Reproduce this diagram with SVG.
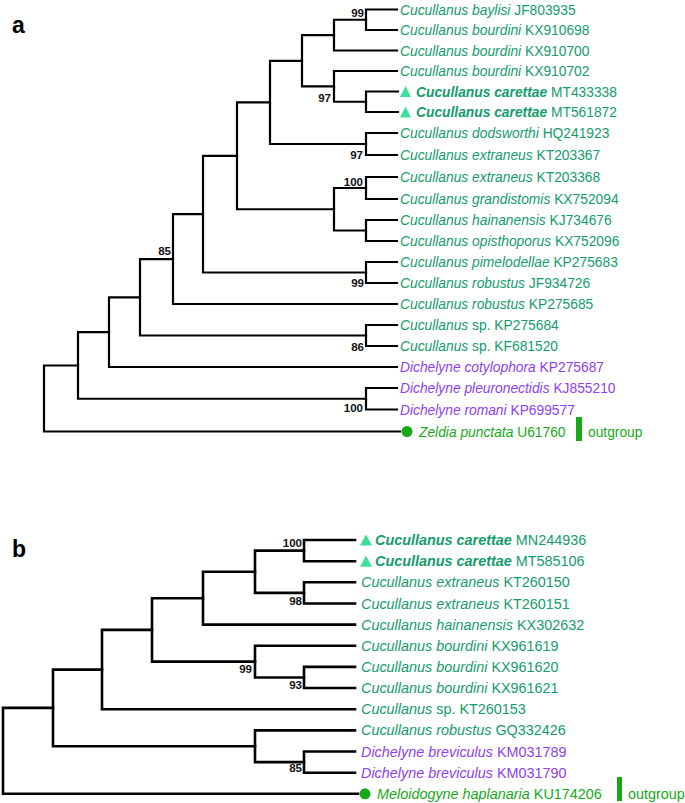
<svg xmlns="http://www.w3.org/2000/svg" width="685" height="803" viewBox="0 0 685 803">
<style>
.br{fill:none;stroke:#000;stroke-width:2.2;stroke-linejoin:miter;stroke-linecap:square}
.brb{fill:none;stroke:#000;stroke-width:2.6;stroke-linejoin:miter;stroke-linecap:square}
.ta{font-family:"Liberation Sans",Arial,sans-serif;font-size:13.8px}
.tb{font-family:"Liberation Sans",Arial,sans-serif;font-size:14.4px}
.cu{fill:#149c6c}
.di{fill:#9040f2}
.og{fill:#17a817}
.i{font-style:italic}
.bi{font-style:italic;font-weight:bold}
.bs{font-family:"Liberation Sans",Arial,sans-serif;font-size:11.5px;font-weight:bold;fill:#111;text-anchor:end}
.pl{font-family:"Liberation Sans",Arial,sans-serif;font-size:23px;font-weight:bold;fill:#000}
.tri{fill:#3ddf99}
.dot{fill:#17a817}
</style>
<text class="pl" x="12" y="33">a</text>
<text class="pl" x="12" y="557">b</text>

<g id="connectors-a">
<path class="br" d="M366,9.5H397M366,30H397M366,9.5V30"/>
<path class="br" d="M334,19.75H366M334,50.5H397M334,19.75V50.5"/>
<path class="br" d="M366,91.5H398M366,112H398M366,91.5V112"/>
<path class="br" d="M334,71H397M334,101.75H366M334,71V101.75"/>
<path class="br" d="M302,35.1H334M302,86.4H334M302,35.1V86.4"/>
<path class="br" d="M366,133H397M366,155H397M366,133V155"/>
<path class="br" d="M270,60.8H302M270,144H366M270,60.8V144"/>
<path class="br" d="M366,177H397M366,199H397M366,177V199"/>
<path class="br" d="M366,220H397M366,241H397M366,220V241"/>
<path class="br" d="M334,188H366M334,230.5H366M334,188V230.5"/>
<path class="br" d="M237,102.4H270M237,209.25H334M237,102.4V209.25"/>
<path class="br" d="M366,262H397M366,283H397M366,262V283"/>
<path class="br" d="M203,155.8H237M203,272.5H366M203,155.8V272.5"/>
<path class="br" d="M173,214.2H203M173,304H397M173,214.2V304"/>
<path class="br" d="M366,325H397M366,346H397M366,325V346"/>
<path class="br" d="M140,259.1H173M140,335.5H366M140,259.1V335.5"/>
<path class="br" d="M109,297.3H140M109,367H397M109,297.3V367"/>
<path class="br" d="M366,388H397M366,409.5H397M366,388V409.5"/>
<path class="br" d="M78,332.2H109M78,398.75H366M78,332.2V398.75"/>
<path class="br" d="M44,365.5H78M44,431.5H400M44,365.5V431.5"/>
</g>

<g id="support-a">
<text class="bs" x="364" y="17">99</text>
<text class="bs" x="331" y="102">97</text>
<text class="bs" x="363" y="159">97</text>
<text class="bs" x="363" y="186">100</text>
<text class="bs" x="171" y="255">85</text>
<text class="bs" x="364" y="287">99</text>
<text class="bs" x="364" y="351">86</text>
<text class="bs" x="363" y="412">100</text>
</g>

<g id="tips-a">
<g id="a1"><text class="ta cu" x="400" y="14.5"><tspan class="i">Cucullanus baylisi</tspan> JF803935</text></g>
<g id="a2"><text class="ta cu" x="400" y="35"><tspan class="i">Cucullanus bourdini</tspan> KX910698</text></g>
<g id="a3"><text class="ta cu" x="400" y="55.5"><tspan class="i">Cucullanus bourdini</tspan> KX910700</text></g>
<g id="a4"><text class="ta cu" x="400" y="76"><tspan class="i">Cucullanus bourdini</tspan> KX910702</text></g>
<g id="a5"><polygon class="tri" points="405.5,86 400,97 411,97"/><text class="ta cu" x="416" y="96.5"><tspan class="bi">Cucullanus carettae</tspan> MT433338</text></g>
<g id="a6"><polygon class="tri" points="405.5,106.5 400,117.5 411,117.5"/><text class="ta cu" x="416" y="117"><tspan class="bi">Cucullanus carettae</tspan> MT561872</text></g>
<g id="a7"><text class="ta cu" x="400" y="138"><tspan class="i">Cucullanus dodsworthi</tspan> HQ241923</text></g>
<g id="a8"><text class="ta cu" x="400" y="160"><tspan class="i">Cucullanus extraneus</tspan> KT203367</text></g>
<g id="a9"><text class="ta cu" x="400" y="182"><tspan class="i">Cucullanus extraneus</tspan> KT203368</text></g>
<g id="a10"><text class="ta cu" x="400" y="204"><tspan class="i">Cucullanus grandistomis</tspan> KX752094</text></g>
<g id="a11"><text class="ta cu" x="400" y="225"><tspan class="i">Cucullanus hainanensis</tspan> KJ734676</text></g>
<g id="a12"><text class="ta cu" x="400" y="246"><tspan class="i">Cucullanus opisthoporus</tspan> KX752096</text></g>
<g id="a13"><text class="ta cu" x="400" y="267"><tspan class="i">Cucullanus pimelodellae</tspan> KP275683</text></g>
<g id="a14"><text class="ta cu" x="400" y="288"><tspan class="i">Cucullanus robustus</tspan> JF934726</text></g>
<g id="a15"><text class="ta cu" x="400" y="309"><tspan class="i">Cucullanus robustus</tspan> KP275685</text></g>
<g id="a16"><text class="ta cu" x="400" y="330"><tspan class="i">Cucullanus</tspan> sp. KP275684</text></g>
<g id="a17"><text class="ta cu" x="400" y="351"><tspan class="i">Cucullanus</tspan> sp. KF681520</text></g>
<g id="a18"><text class="ta di" x="400" y="372"><tspan class="i">Dichelyne cotylophora</tspan> KP275687</text></g>
<g id="a19"><text class="ta di" x="400" y="393"><tspan class="i">Dichelyne pleuronectidis</tspan> KJ855210</text></g>
<g id="a20"><text class="ta di" x="400" y="414.5"><tspan class="i">Dichelyne romani</tspan> KP699577</text></g>
<g id="a21"><circle class="dot" cx="407" cy="431.5" r="5.5"/><text class="ta og" x="419" y="436.5"><tspan class="i">Zeldia punctata</tspan> U61760</text><rect class="dot" x="576" y="417" width="6" height="24"/><text class="ta og" x="588" y="436.5">outgroup</text></g>
</g>

<g id="connectors-b">
<path class="brb" d="M304,540H355M304,561.2H355M304,540V561.2"/>
<path class="brb" d="M304,582.3H355M304,603.5H355M304,582.3V603.5"/>
<path class="brb" d="M255,550.6H304M255,592.9H304M255,550.6V592.9"/>
<path class="brb" d="M203,571.75H255M203,624.6H355M203,571.75V624.6"/>
<path class="brb" d="M304,666.9H355M304,688H355M304,666.9V688"/>
<path class="brb" d="M255,645.8H355M255,677.45H304M255,645.8V677.45"/>
<path class="brb" d="M152,598.2H203M152,661.6H255M152,598.2V661.6"/>
<path class="brb" d="M102,629.9H152M102,709.2H355M102,629.9V709.2"/>
<path class="brb" d="M304,751.5H355M304,772.7H355M304,751.5V772.7"/>
<path class="brb" d="M255,730.4H355M255,762.1H304M255,730.4V762.1"/>
<path class="brb" d="M53,669.6H102M53,746.25H255M53,669.6V746.25"/>
<path class="brb" d="M3,707.9H53M3,793.8H358M3,707.9V793.8"/>
</g>

<g id="support-b">
<text class="bs" x="302" y="547">100</text>
<text class="bs" x="302" y="605">98</text>
<text class="bs" x="252" y="673">99</text>
<text class="bs" x="302" y="689">93</text>
<text class="bs" x="302" y="772">85</text>
</g>

<g id="tips-b">
<g id="b1"><polygon class="tri" points="366,534.5 360,545.5 372,545.5"/><text class="tb cu" x="375" y="545"><tspan class="bi">Cucullanus carettae</tspan> MN244936</text></g>
<g id="b2"><polygon class="tri" points="366,555.7 360,566.7 372,566.7"/><text class="tb cu" x="375" y="566.2"><tspan class="bi">Cucullanus carettae</tspan> MT585106</text></g>
<g id="b3"><text class="tb cu" x="361" y="587.3"><tspan class="i">Cucullanus extraneus</tspan> KT260150</text></g>
<g id="b4"><text class="tb cu" x="361" y="608.5"><tspan class="i">Cucullanus extraneus</tspan> KT260151</text></g>
<g id="b5"><text class="tb cu" x="361" y="629.6"><tspan class="i">Cucullanus hainanensis</tspan> KX302632</text></g>
<g id="b6"><text class="tb cu" x="361" y="650.8"><tspan class="i">Cucullanus bourdini</tspan> KX961619</text></g>
<g id="b7"><text class="tb cu" x="361" y="671.9"><tspan class="i">Cucullanus bourdini</tspan> KX961620</text></g>
<g id="b8"><text class="tb cu" x="361" y="693"><tspan class="i">Cucullanus bourdini</tspan> KX961621</text></g>
<g id="b9"><text class="tb cu" x="361" y="714.2"><tspan class="i">Cucullanus</tspan> sp. KT260153</text></g>
<g id="b10"><text class="tb cu" x="361" y="735.4"><tspan class="i">Cucullanus robustus</tspan> GQ332426</text></g>
<g id="b11"><text class="tb di" x="361" y="756.5"><tspan class="i">Dichelyne breviculus</tspan> KM031789</text></g>
<g id="b12"><text class="tb di" x="361" y="777.7"><tspan class="i">Dichelyne breviculus</tspan> KM031790</text></g>
<g id="b13"><circle class="dot" cx="365" cy="793.8" r="5.5"/><text class="tb og" x="377" y="798.8"><tspan class="i">Meloidogyne haplanaria</tspan> KU174206</text><rect class="dot" x="617" y="777" width="5" height="24"/><text class="tb og" x="628" y="798.8">outgroup</text></g>
</g>
</svg>
